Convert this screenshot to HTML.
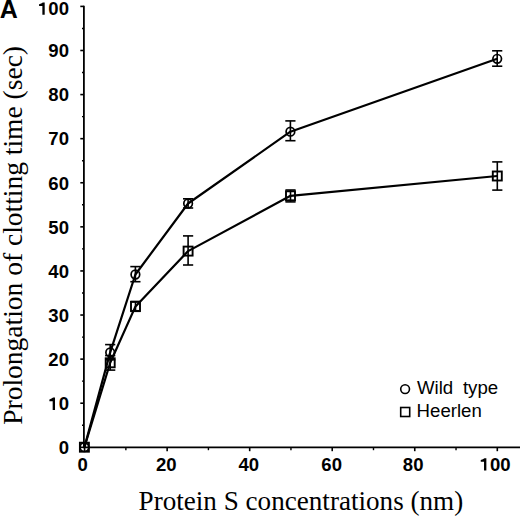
<!DOCTYPE html>
<html><head><meta charset="utf-8"><style>
html,body{margin:0;padding:0;background:#fff;}
body{width:520px;height:516px;overflow:hidden;}
svg{display:block;}
</style></head><body>
<svg width="520" height="516" viewBox="0 0 520 516">
<rect width="520" height="516" fill="#fff"/>
<line x1="83.9" y1="5.80" x2="83.9" y2="447.30" stroke="#000" stroke-width="1.8"/>
<line x1="83.0" y1="447.3" x2="520" y2="447.3" stroke="#000" stroke-width="1.8"/>
<line x1="80.3" y1="447.30" x2="83.9" y2="447.30" stroke="#000" stroke-width="1.6"/>
<line x1="80.3" y1="403.21" x2="83.9" y2="403.21" stroke="#000" stroke-width="1.6"/>
<line x1="80.3" y1="359.12" x2="83.9" y2="359.12" stroke="#000" stroke-width="1.6"/>
<line x1="80.3" y1="315.03" x2="83.9" y2="315.03" stroke="#000" stroke-width="1.6"/>
<line x1="80.3" y1="270.94" x2="83.9" y2="270.94" stroke="#000" stroke-width="1.6"/>
<line x1="80.3" y1="226.85" x2="83.9" y2="226.85" stroke="#000" stroke-width="1.6"/>
<line x1="80.3" y1="182.76" x2="83.9" y2="182.76" stroke="#000" stroke-width="1.6"/>
<line x1="80.3" y1="138.67" x2="83.9" y2="138.67" stroke="#000" stroke-width="1.6"/>
<line x1="80.3" y1="94.58" x2="83.9" y2="94.58" stroke="#000" stroke-width="1.6"/>
<line x1="80.3" y1="50.49" x2="83.9" y2="50.49" stroke="#000" stroke-width="1.6"/>
<line x1="80.3" y1="6.40" x2="83.9" y2="6.40" stroke="#000" stroke-width="1.6"/>
<line x1="82.0" y1="425.25" x2="83.9" y2="425.25" stroke="#000" stroke-width="1.4"/>
<line x1="82.0" y1="381.17" x2="83.9" y2="381.17" stroke="#000" stroke-width="1.4"/>
<line x1="82.0" y1="337.08" x2="83.9" y2="337.08" stroke="#000" stroke-width="1.4"/>
<line x1="82.0" y1="292.99" x2="83.9" y2="292.99" stroke="#000" stroke-width="1.4"/>
<line x1="82.0" y1="248.90" x2="83.9" y2="248.90" stroke="#000" stroke-width="1.4"/>
<line x1="82.0" y1="204.81" x2="83.9" y2="204.81" stroke="#000" stroke-width="1.4"/>
<line x1="82.0" y1="160.72" x2="83.9" y2="160.72" stroke="#000" stroke-width="1.4"/>
<line x1="82.0" y1="116.62" x2="83.9" y2="116.62" stroke="#000" stroke-width="1.4"/>
<line x1="82.0" y1="72.54" x2="83.9" y2="72.54" stroke="#000" stroke-width="1.4"/>
<line x1="82.0" y1="28.45" x2="83.9" y2="28.45" stroke="#000" stroke-width="1.4"/>
<line x1="84.60" y1="447.3" x2="84.60" y2="451.2" stroke="#000" stroke-width="1.6"/>
<line x1="167.14" y1="447.3" x2="167.14" y2="451.2" stroke="#000" stroke-width="1.6"/>
<line x1="249.68" y1="447.3" x2="249.68" y2="451.2" stroke="#000" stroke-width="1.6"/>
<line x1="332.22" y1="447.3" x2="332.22" y2="451.2" stroke="#000" stroke-width="1.6"/>
<line x1="414.76" y1="447.3" x2="414.76" y2="451.2" stroke="#000" stroke-width="1.6"/>
<line x1="497.30" y1="447.3" x2="497.30" y2="451.2" stroke="#000" stroke-width="1.6"/>
<line x1="125.87" y1="447.3" x2="125.87" y2="450.2" stroke="#000" stroke-width="1.4"/>
<line x1="208.41" y1="447.3" x2="208.41" y2="450.2" stroke="#000" stroke-width="1.4"/>
<line x1="290.95" y1="447.3" x2="290.95" y2="450.2" stroke="#000" stroke-width="1.4"/>
<line x1="373.49" y1="447.3" x2="373.49" y2="450.2" stroke="#000" stroke-width="1.4"/>
<line x1="456.03" y1="447.3" x2="456.03" y2="450.2" stroke="#000" stroke-width="1.4"/>
<text transform="translate(58.65,454.10) scale(1.06,1)" font-family="Liberation Sans, sans-serif" font-weight="bold" font-size="17.5">0</text>
<path d="M53.10,397.62 L55.01,397.62 L55.01,410.01 L52.68,410.01 L52.68,401.22 L49.39,401.22 L49.39,399.52 Q51.83,398.82 53.10,397.62 Z" fill="#000"/><text transform="translate(58.65,410.01) scale(1.06,1)" font-family="Liberation Sans, sans-serif" font-weight="bold" font-size="17.5">0</text>
<text transform="translate(48.33,365.92) scale(1.06,1)" font-family="Liberation Sans, sans-serif" font-weight="bold" font-size="17.5">2</text><text transform="translate(58.65,365.92) scale(1.06,1)" font-family="Liberation Sans, sans-serif" font-weight="bold" font-size="17.5">0</text>
<text transform="translate(48.33,321.83) scale(1.06,1)" font-family="Liberation Sans, sans-serif" font-weight="bold" font-size="17.5">3</text><text transform="translate(58.65,321.83) scale(1.06,1)" font-family="Liberation Sans, sans-serif" font-weight="bold" font-size="17.5">0</text>
<text transform="translate(48.33,277.74) scale(1.06,1)" font-family="Liberation Sans, sans-serif" font-weight="bold" font-size="17.5">4</text><text transform="translate(58.65,277.74) scale(1.06,1)" font-family="Liberation Sans, sans-serif" font-weight="bold" font-size="17.5">0</text>
<text transform="translate(48.33,233.65) scale(1.06,1)" font-family="Liberation Sans, sans-serif" font-weight="bold" font-size="17.5">5</text><text transform="translate(58.65,233.65) scale(1.06,1)" font-family="Liberation Sans, sans-serif" font-weight="bold" font-size="17.5">0</text>
<text transform="translate(48.33,189.56) scale(1.06,1)" font-family="Liberation Sans, sans-serif" font-weight="bold" font-size="17.5">6</text><text transform="translate(58.65,189.56) scale(1.06,1)" font-family="Liberation Sans, sans-serif" font-weight="bold" font-size="17.5">0</text>
<text transform="translate(48.33,145.47) scale(1.06,1)" font-family="Liberation Sans, sans-serif" font-weight="bold" font-size="17.5">7</text><text transform="translate(58.65,145.47) scale(1.06,1)" font-family="Liberation Sans, sans-serif" font-weight="bold" font-size="17.5">0</text>
<text transform="translate(48.33,101.38) scale(1.06,1)" font-family="Liberation Sans, sans-serif" font-weight="bold" font-size="17.5">8</text><text transform="translate(58.65,101.38) scale(1.06,1)" font-family="Liberation Sans, sans-serif" font-weight="bold" font-size="17.5">0</text>
<text transform="translate(48.33,57.29) scale(1.06,1)" font-family="Liberation Sans, sans-serif" font-weight="bold" font-size="17.5">9</text><text transform="translate(58.65,57.29) scale(1.06,1)" font-family="Liberation Sans, sans-serif" font-weight="bold" font-size="17.5">0</text>
<path d="M42.79,2.41 L44.70,2.41 L44.70,14.80 L42.37,14.80 L42.37,6.01 L39.08,6.01 L39.08,4.31 Q41.52,3.61 42.79,2.41 Z" fill="#000"/><text transform="translate(48.33,14.80) scale(1.06,1)" font-family="Liberation Sans, sans-serif" font-weight="bold" font-size="17.5">0</text><text transform="translate(58.65,14.80) scale(1.06,1)" font-family="Liberation Sans, sans-serif" font-weight="bold" font-size="17.5">0</text>
<text transform="translate(77.40,470.60) scale(1.06,1)" font-family="Liberation Sans, sans-serif" font-weight="bold" font-size="17.5">0</text>
<text transform="translate(155.95,470.60) scale(1.06,1)" font-family="Liberation Sans, sans-serif" font-weight="bold" font-size="17.5">2</text><text transform="translate(166.26,470.60) scale(1.06,1)" font-family="Liberation Sans, sans-serif" font-weight="bold" font-size="17.5">0</text>
<text transform="translate(238.40,470.60) scale(1.06,1)" font-family="Liberation Sans, sans-serif" font-weight="bold" font-size="17.5">4</text><text transform="translate(248.71,470.60) scale(1.06,1)" font-family="Liberation Sans, sans-serif" font-weight="bold" font-size="17.5">0</text>
<text transform="translate(321.35,470.60) scale(1.06,1)" font-family="Liberation Sans, sans-serif" font-weight="bold" font-size="17.5">6</text><text transform="translate(331.66,470.60) scale(1.06,1)" font-family="Liberation Sans, sans-serif" font-weight="bold" font-size="17.5">0</text>
<text transform="translate(402.85,470.60) scale(1.06,1)" font-family="Liberation Sans, sans-serif" font-weight="bold" font-size="17.5">8</text><text transform="translate(413.16,470.60) scale(1.06,1)" font-family="Liberation Sans, sans-serif" font-weight="bold" font-size="17.5">0</text>
<path d="M484.45,458.21 L486.36,458.21 L486.36,470.60 L484.03,470.60 L484.03,461.81 L480.74,461.81 L480.74,460.11 Q483.18,459.41 484.45,458.21 Z" fill="#000"/><text transform="translate(489.99,470.60) scale(1.06,1)" font-family="Liberation Sans, sans-serif" font-weight="bold" font-size="17.5">0</text><text transform="translate(500.31,470.60) scale(1.06,1)" font-family="Liberation Sans, sans-serif" font-weight="bold" font-size="17.5">0</text>
<polyline points="84.40,447.20 110.20,352.40 135.40,274.50 188.10,203.50 290.40,131.70 497.20,58.80" fill="none" stroke="#000" stroke-width="2.2" stroke-linejoin="round"/>
<polyline points="84.40,447.20 110.20,362.80 135.50,306.40 188.10,251.10 290.50,195.80 497.30,176.00" fill="none" stroke="#000" stroke-width="2.2" stroke-linejoin="round"/>
<line x1="110.20" y1="344.60" x2="110.20" y2="359.80" stroke="#000" stroke-width="1.6"/><line x1="105.10" y1="344.60" x2="115.30" y2="344.60" stroke="#000" stroke-width="1.6"/><line x1="105.10" y1="359.80" x2="115.30" y2="359.80" stroke="#000" stroke-width="1.6"/>
<line x1="135.40" y1="266.60" x2="135.40" y2="281.70" stroke="#000" stroke-width="1.6"/><line x1="130.30" y1="266.60" x2="140.50" y2="266.60" stroke="#000" stroke-width="1.6"/><line x1="130.30" y1="281.70" x2="140.50" y2="281.70" stroke="#000" stroke-width="1.6"/>
<line x1="188.10" y1="198.80" x2="188.10" y2="208.00" stroke="#000" stroke-width="1.6"/><line x1="183.00" y1="198.80" x2="193.20" y2="198.80" stroke="#000" stroke-width="1.6"/><line x1="183.00" y1="208.00" x2="193.20" y2="208.00" stroke="#000" stroke-width="1.6"/>
<line x1="290.40" y1="120.90" x2="290.40" y2="140.70" stroke="#000" stroke-width="1.6"/><line x1="285.30" y1="120.90" x2="295.50" y2="120.90" stroke="#000" stroke-width="1.6"/><line x1="285.30" y1="140.70" x2="295.50" y2="140.70" stroke="#000" stroke-width="1.6"/>
<line x1="497.20" y1="50.80" x2="497.20" y2="66.20" stroke="#000" stroke-width="1.6"/><line x1="492.10" y1="50.80" x2="502.30" y2="50.80" stroke="#000" stroke-width="1.6"/><line x1="492.10" y1="66.20" x2="502.30" y2="66.20" stroke="#000" stroke-width="1.6"/>
<line x1="110.20" y1="355.60" x2="110.20" y2="370.10" stroke="#000" stroke-width="1.6"/><line x1="105.10" y1="355.60" x2="115.30" y2="355.60" stroke="#000" stroke-width="1.6"/><line x1="105.10" y1="370.10" x2="115.30" y2="370.10" stroke="#000" stroke-width="1.6"/>
<line x1="135.50" y1="301.50" x2="135.50" y2="311.30" stroke="#000" stroke-width="1.6"/><line x1="130.40" y1="301.50" x2="140.60" y2="301.50" stroke="#000" stroke-width="1.6"/><line x1="130.40" y1="311.30" x2="140.60" y2="311.30" stroke="#000" stroke-width="1.6"/>
<line x1="188.10" y1="235.90" x2="188.10" y2="265.00" stroke="#000" stroke-width="1.6"/><line x1="183.00" y1="235.90" x2="193.20" y2="235.90" stroke="#000" stroke-width="1.6"/><line x1="183.00" y1="265.00" x2="193.20" y2="265.00" stroke="#000" stroke-width="1.6"/>
<line x1="290.50" y1="190.00" x2="290.50" y2="201.90" stroke="#000" stroke-width="1.6"/><line x1="285.40" y1="190.00" x2="295.60" y2="190.00" stroke="#000" stroke-width="1.6"/><line x1="285.40" y1="201.90" x2="295.60" y2="201.90" stroke="#000" stroke-width="1.6"/>
<line x1="497.30" y1="161.90" x2="497.30" y2="190.10" stroke="#000" stroke-width="1.6"/><line x1="492.20" y1="161.90" x2="502.40" y2="161.90" stroke="#000" stroke-width="1.6"/><line x1="492.20" y1="190.10" x2="502.40" y2="190.10" stroke="#000" stroke-width="1.6"/>
<circle cx="84.40" cy="447.20" r="4.3" fill="none" stroke="#000" stroke-width="1.7"/>
<circle cx="110.20" cy="352.40" r="4.3" fill="none" stroke="#000" stroke-width="1.7"/>
<circle cx="135.40" cy="274.50" r="4.3" fill="none" stroke="#000" stroke-width="1.7"/>
<circle cx="188.10" cy="203.50" r="4.3" fill="none" stroke="#000" stroke-width="1.7"/>
<circle cx="290.40" cy="131.70" r="4.3" fill="none" stroke="#000" stroke-width="1.7"/>
<circle cx="497.20" cy="58.80" r="4.3" fill="none" stroke="#000" stroke-width="1.7"/>
<rect x="79.90" y="442.70" width="9.0" height="9.0" fill="none" stroke="#000" stroke-width="1.9"/>
<rect x="105.70" y="358.30" width="9.0" height="9.0" fill="none" stroke="#000" stroke-width="1.9"/>
<rect x="131.00" y="301.90" width="9.0" height="9.0" fill="none" stroke="#000" stroke-width="1.9"/>
<rect x="183.60" y="246.60" width="9.0" height="9.0" fill="none" stroke="#000" stroke-width="1.9"/>
<rect x="286.00" y="191.30" width="9.0" height="9.0" fill="none" stroke="#000" stroke-width="1.9"/>
<rect x="492.80" y="171.50" width="9.0" height="9.0" fill="none" stroke="#000" stroke-width="1.9"/>
<circle cx="405.1" cy="389.1" r="4.4" fill="none" stroke="#000" stroke-width="1.6"/>
<rect x="400.7" y="407.5" width="9.0" height="9.0" fill="none" stroke="#000" stroke-width="1.6"/>
<text transform="translate(416.9,394.2) scale(1.025,1)" font-family="Liberation Sans, sans-serif" font-size="18.2">Wild</text>
<text transform="translate(462.9,394.2) scale(1.025,1)" font-family="Liberation Sans, sans-serif" font-size="18.2">type</text>
<text transform="translate(416.6,417.4) scale(1.025,1)" font-family="Liberation Sans, sans-serif" font-size="18.2">Heerlen</text>
<text x="-0.3" y="17.7" font-family="Liberation Sans, sans-serif" font-weight="bold" font-size="25">A</text>
<text x="138.6" y="509.8" font-family="Liberation Serif, serif" font-size="26.8" textLength="324.6" lengthAdjust="spacingAndGlyphs">Protein S concentrations (nm)</text>
<text transform="translate(22.1,424.8) rotate(-90)" x="0" y="0" font-family="Liberation Serif, serif" font-size="26.8" textLength="378.8" lengthAdjust="spacingAndGlyphs">Prolongation of clotting time (sec)</text>
</svg>
</body></html>
